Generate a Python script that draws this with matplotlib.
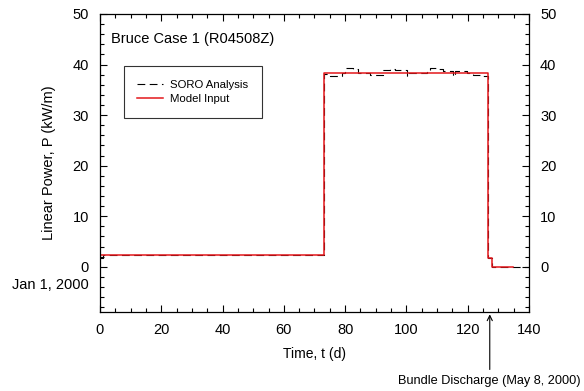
import numpy as np
import matplotlib
matplotlib.use("Agg")
import matplotlib.pyplot as plt
from matplotlib.ticker import MultipleLocator

plt.rcParams['font.family'] = ['Liberation Sans', 'DejaVu Sans']

# SORO analysis (step values, start time of each step)
soro_t = [0, 1, 73.1, 75.1, 76.7, 78.9, 80, 82.7, 84.3, 85.9, 88.1, 92.5, 94.6, 96.3,
          100.1, 100.6, 102.8, 106.6, 107.7, 109.9, 112, 115.3, 115.9, 119.7, 121.8,
          124, 126.6, 127.8, 140]
soro_p = [1.8, 2.4, 38.1, 37.7, 37.8, 38.3, 39.3, 39.1, 38.3, 38.3, 37.9, 38.9, 39.1,
          38.9, 37.7, 38.3, 38.3, 38.8, 39.3, 39.1, 38.8, 37.7, 38.8, 38.3, 37.9,
          37.7, 1.8, 0.0, 0.0]

# model input
model_t = [0, 73.1, 126.6, 127.8, 134.8]
model_p = [2.4, 38.3, 1.8, 0.0, 0.0]

fig = plt.figure(figsize=(5.84, 3.91), dpi=100)
ax = fig.add_axes([0.1712, 0.2013, 0.7346, 0.7629])

ax.step(soro_t, soro_p, where='post', color='black', lw=0.8, dashes=(7, 4), label='SORO Analysis')
ax.step(model_t, model_p, where='post', color='#e3171b', lw=1.1, label='Model Input')

ax.set_xlim(0, 140)
ax.set_ylim(-9, 50)
ax.xaxis.set_major_locator(MultipleLocator(20))
ax.xaxis.set_minor_locator(MultipleLocator(5))
ax.yaxis.set_minor_locator(MultipleLocator(2))
ax.set_yticks([0, 10, 20, 30, 40, 50])
ax.tick_params(which='both', direction='in', top=True, right=True, labelright=True,
               labelsize=10.5, width=0.8, pad=8)
ax.tick_params(which='major', length=5)
ax.tick_params(which='minor', length=3)
for s in ax.spines.values():
    s.set_linewidth(0.9)

ax.set_xlabel('Time, t (d)', fontsize=10, labelpad=7)
ax.set_ylabel('Linear Power, P (kW/m)', fontsize=10.5, labelpad=12)

ax.text(3.6, 45, 'Bruce Case 1 (R04508Z)', fontsize=10.5, va='center')
ax.text(-3.6, -3.6, 'Jan 1, 2000', fontsize=10.5, ha='right', va='center')

leg = ax.legend(loc='upper left', bbox_to_anchor=(0.055, 0.825), fontsize=8.2,
                frameon=True, fancybox=False, edgecolor='black', handlelength=2.3,
                borderpad=1.2, labelspacing=0.35, handletextpad=0.6, borderaxespad=0)
leg.get_frame().set_linewidth(0.8)

ax.annotate('Bundle Discharge (May 8, 2000)', xy=(127.2, -9.4), xytext=(127.2, -22.6),
            xycoords='data', textcoords='data', ha='center', va='center', fontsize=9.2,
            annotation_clip=False,
            arrowprops=dict(arrowstyle='->', color='black', lw=0.8, shrinkB=0))

fig.savefig('out.png', dpi=100)
